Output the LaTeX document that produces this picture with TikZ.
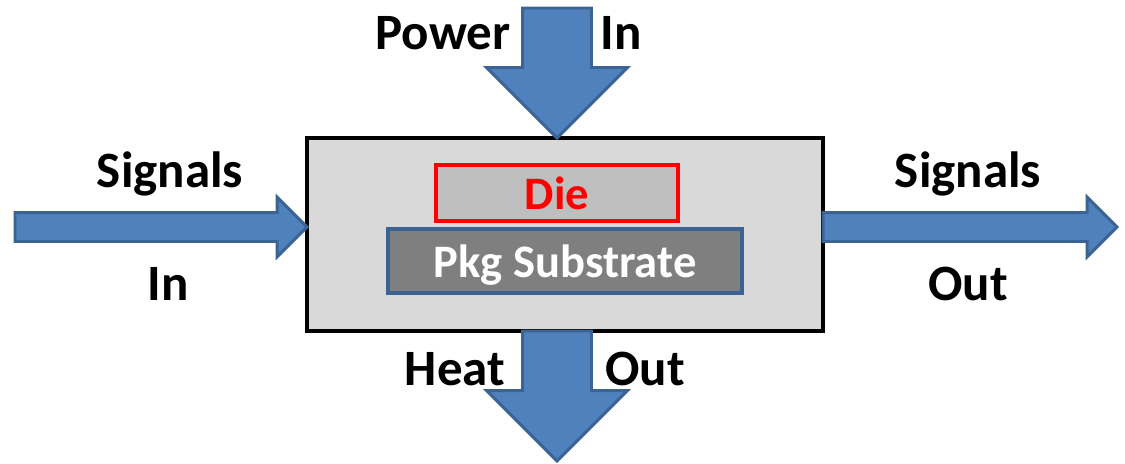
\documentclass[tikz,border=0pt]{standalone}
\usepackage{fontspec}
\setmainfont{Carlito}
\usepackage{xcolor}
\usepackage{tikz}
\usetikzlibrary{shapes.arrows}

\definecolor{arrowfill}{HTML}{4F81BD}
\definecolor{arrowline}{HTML}{3B6494}
\definecolor{casegray}{HTML}{D9D9D9}
\definecolor{diegray}{HTML}{BFBFBF}
\definecolor{subgray}{HTML}{7F7F7F}

\begin{document}
\begin{tikzpicture}[
  blockarrow/.style={single arrow,draw=arrowline,fill=arrowfill,line width=1.7pt,
    single arrow tip angle=90,inner xsep=0pt,outer sep=0pt},
  thinarrow/.style={blockarrow,inner ysep=0.26cm,single arrow head extend=0.31cm},
  widearrow/.style={blockarrow,rotate=-90,inner ysep=0.66cm,single arrow head extend=0.72cm,minimum height=2.6cm},
  lbl/.style={font=\fontsize{29}{34}\selectfont\bfseries,anchor=base},
  inlbl/.style={font=\fontsize{26.5}{31}\selectfont\bfseries,inner sep=0pt,outer sep=0pt,text depth=0pt}]
  \useasboundingbox (0,0) rectangle (22.5,9.26);
  % package with die on substrate
  \node[draw=black,fill=casegray,line width=2.3pt,minimum width=10.32cm,minimum height=3.86cm,inner sep=0pt,outer sep=0pt] (pkg) at (11.3,4.57) {};
  \node[inlbl,draw=red,fill=diegray,line width=2pt,minimum width=4.84cm,minimum height=1.12cm,text=red] (die) at (11.14,5.40) {Die};
  \node[inlbl,draw=arrowline,fill=subgray,line width=2.3pt,minimum width=7.08cm,minimum height=1.28cm,text=white] (sub) at (11.3,4.04) {Pkg Substrate};
  % flows in and out
  \node[thinarrow,minimum height=5.84cm,anchor=tip] (sigin) at ([yshift=0.15cm]pkg.west) {};
  \node[thinarrow,minimum height=5.88cm,anchor=tail] (sigout) at ([yshift=0.15cm]pkg.east) {};
  \node[widearrow,anchor=tip] (pwrin) at (die.center |- pkg.north) {};
  \node[widearrow,anchor=tail] (heatout) at (die.center |- pkg.south) {};
  % labels
  \node[lbl] (sigintop) at (3.4,5.52) {Signals};
  \node[lbl] (siginbot) at (3.36,3.26) {In};
  \node[lbl] (sigouttop) at (19.36,5.52) {Signals};
  \node[lbl] (sigoutbot) at (19.36,3.26) {Out};
  \node[lbl] (pwrleft) at (8.86,8.26) {Power};
  \node[lbl] (pwrright) at (12.42,8.26) {In};
  \node[lbl] (heatleft) at (9.1,1.56) {Heat};
  \node[lbl] (heatright) at (12.9,1.56) {Out};
\end{tikzpicture}
\end{document}
